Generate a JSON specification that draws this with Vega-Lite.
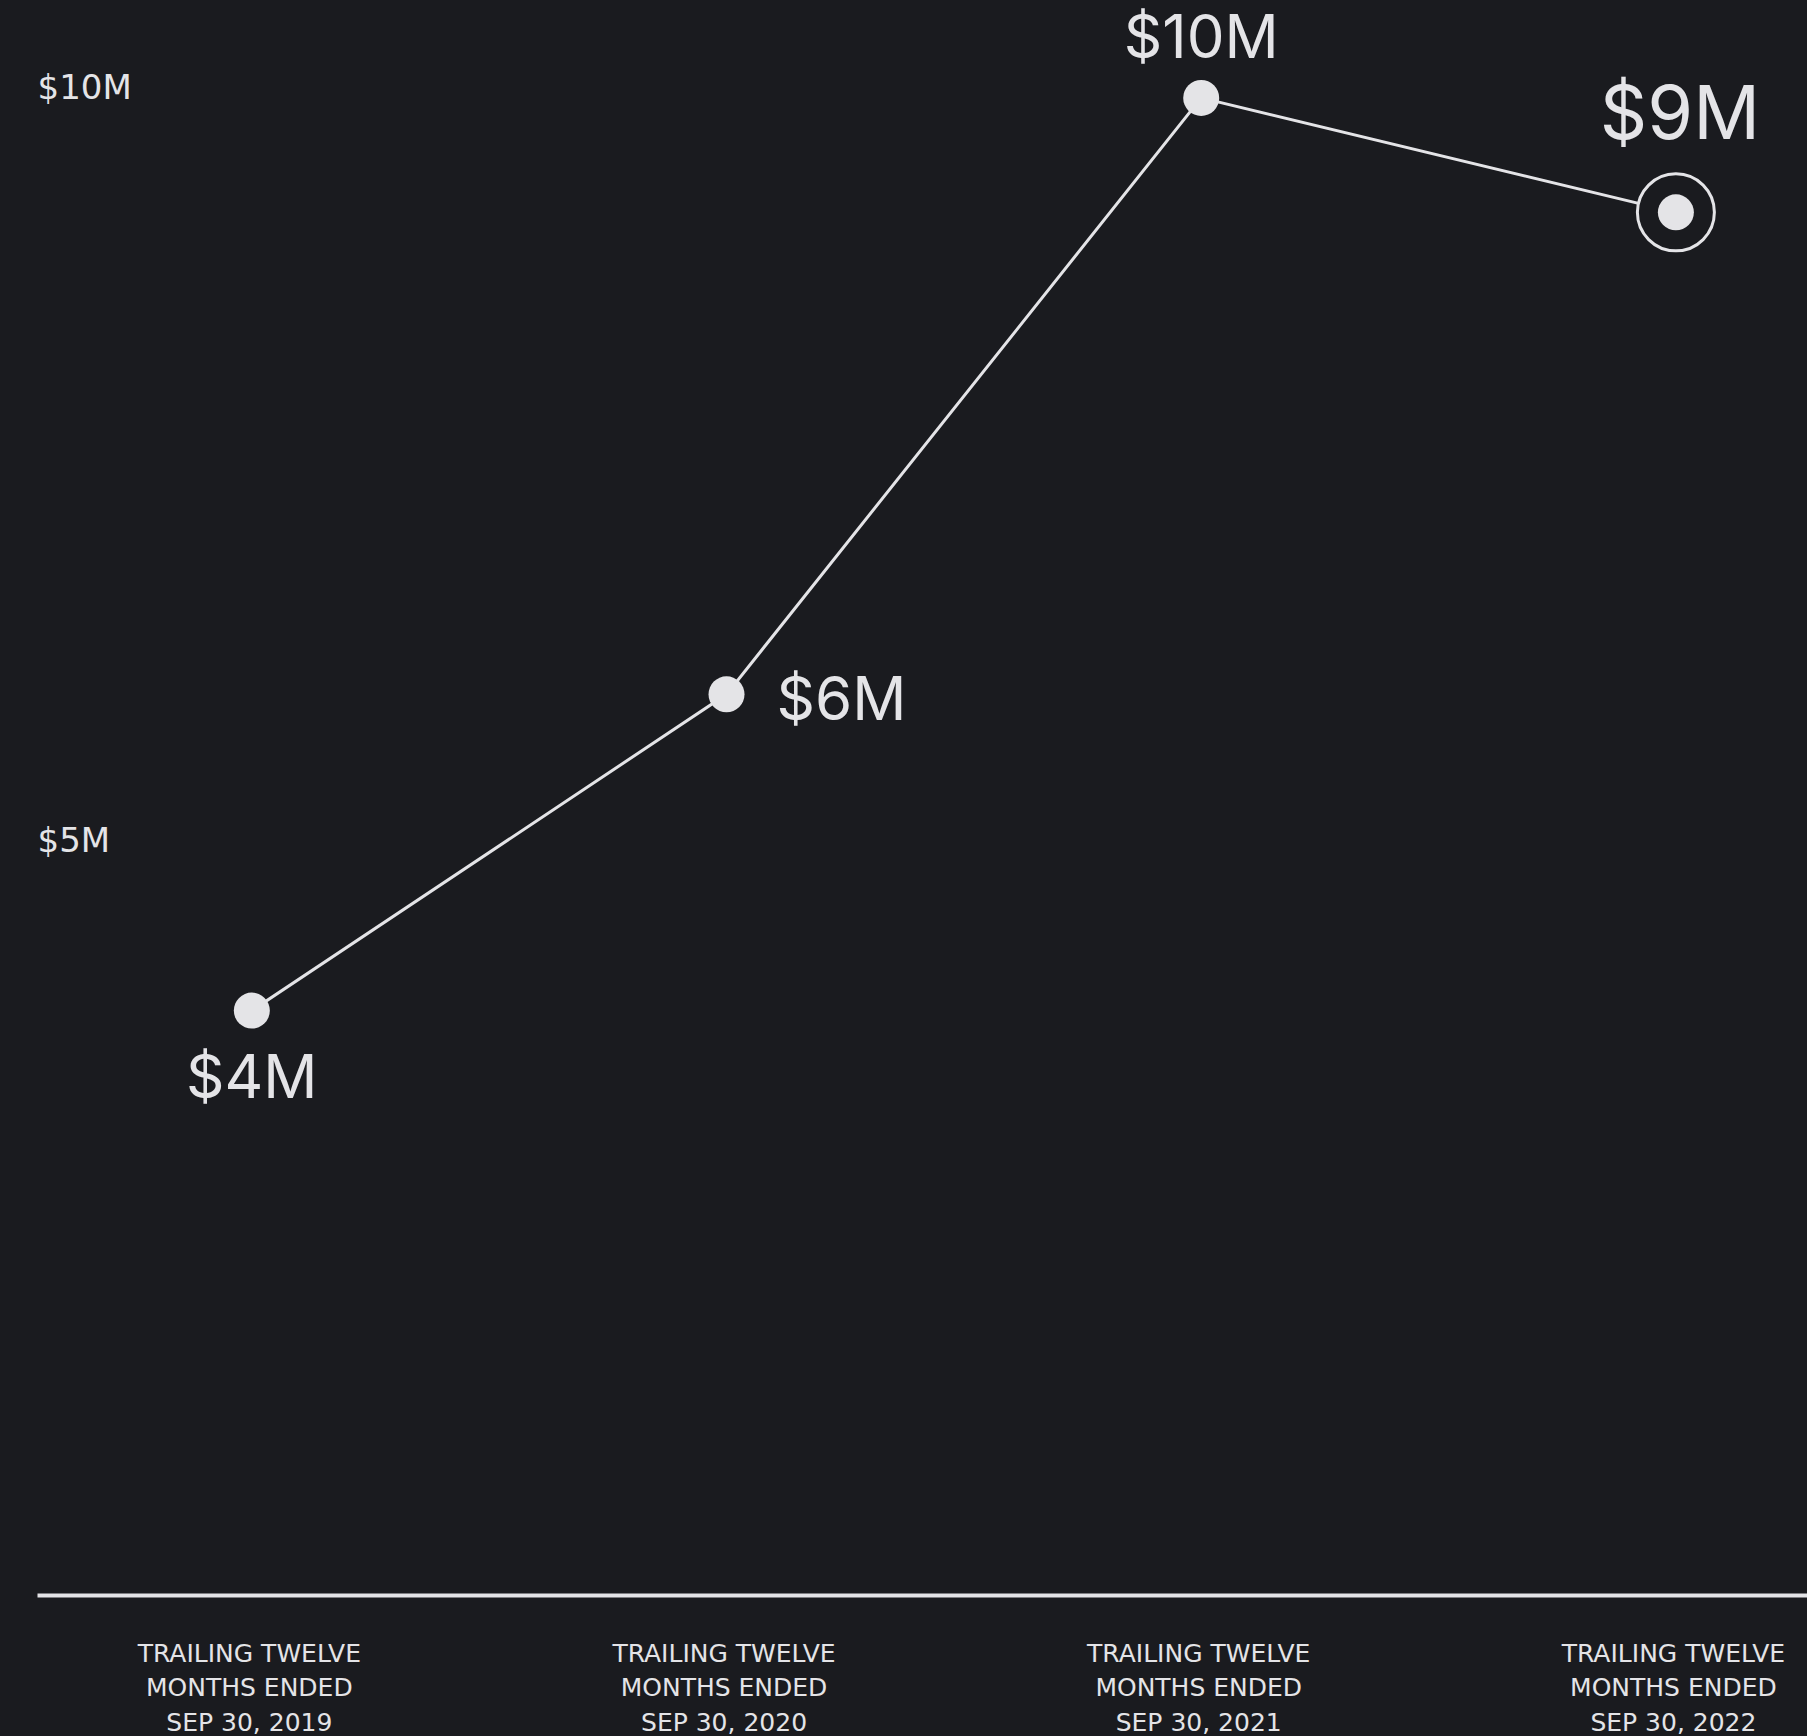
{
  "$schema": "https://vega.github.io/schema/vega-lite/v6.json",
  "width": 1770,
  "height": 1595,
  "autosize": {"type": "none"},
  "padding": {"left": 37, "top": 0, "right": 0, "bottom": 141},
  "background": "#1a1b1f",
  "config": {
    "view": {"stroke": null},
    "font": "Inter"
  },
  "data": {
    "values": [
      {"date": "SEP 30, 2019", "value": 3.88, "label": "$4M"},
      {"date": "SEP 30, 2020", "value": 5.98, "label": "$6M"},
      {"date": "SEP 30, 2021", "value": 9.94, "label": "$10M"},
      {"date": "SEP 30, 2022", "value": 9.18, "label": "$9M"}
    ]
  },
  "encoding": {
    "x": {
      "field": "date",
      "type": "ordinal",
      "sort": null,
      "scale": {"type": "point", "padding": 0.3644, "align": 0.621},
      "axis": {
        "title": null,
        "orient": "bottom",
        "labelAngle": 0,
        "labelExpr": "['TRAILING TWELVE', 'MONTHS ENDED', datum.label]",
        "labelFont": "DejaVu Sans",
        "labelFontSize": 25,
        "labelLimit": 600,
        "labelColor": "#e4e4e7",
        "labelLineHeight": 34.5,
        "labelBaseline": "top",
        "labelPadding": 46,
        "labelOffset": -3,
        "ticks": false,
        "tickSize": 0,
        "domain": true,
        "domainColor": "#e4e4e7",
        "domainWidth": 4,
        "grid": false
      }
    },
    "y": {
      "field": "value",
      "type": "quantitative",
      "scale": {"domain": [0, 10.59], "nice": false, "zero": true},
      "axis": {
        "title": null,
        "values": [5, 10],
        "labelExpr": "'$' + datum.value + 'M'",
        "labelFont": "DejaVu Sans",
        "labelFontSize": 34,
        "labelColor": "#e4e4e7",
        "labelAlign": "left",
        "labelBaseline": "middle",
        "labelPadding": 0,
        "ticks": false,
        "tickSize": 0,
        "domain": false,
        "grid": false
      }
    }
  },
  "layer": [
    {
      "mark": {"type": "line", "color": "#e4e4e7", "strokeWidth": 3}
    },
    {
      "transform": [{"filter": "datum.date == 'SEP 30, 2022'"}],
      "mark": {"type": "point", "shape": "circle", "size": 5929, "filled": true, "fill": "#1a1b1f", "stroke": "#e4e4e7", "strokeWidth": 3, "opacity": 1}
    },
    {
      "mark": {"type": "circle", "size": 1296, "color": "#e4e4e7", "opacity": 1}
    },
    {
      "transform": [{"filter": "datum.date == 'SEP 30, 2019'"}],
      "mark": {"type": "text", "font": "Inter", "fontSize": 60, "color": "#e4e4e7", "align": "center", "baseline": "alphabetic", "dy": 87},
      "encoding": {"text": {"field": "label"}}
    },
    {
      "transform": [{"filter": "datum.date == 'SEP 30, 2020'"}],
      "mark": {"type": "text", "font": "Inter", "fontSize": 60, "color": "#e4e4e7", "align": "left", "baseline": "alphabetic", "dx": 50, "dy": 26},
      "encoding": {"text": {"field": "label"}}
    },
    {
      "transform": [{"filter": "datum.date == 'SEP 30, 2021'"}],
      "mark": {"type": "text", "font": "Inter", "fontSize": 60, "color": "#e4e4e7", "align": "center", "baseline": "alphabetic", "dy": -40},
      "encoding": {"text": {"field": "label"}}
    },
    {
      "transform": [{"filter": "datum.date == 'SEP 30, 2022'"}],
      "mark": {"type": "text", "font": "Inter", "fontSize": 74, "color": "#e4e4e7", "align": "center", "baseline": "alphabetic", "dx": 4, "dy": -73},
      "encoding": {"text": {"field": "label"}}
    }
  ]
}
